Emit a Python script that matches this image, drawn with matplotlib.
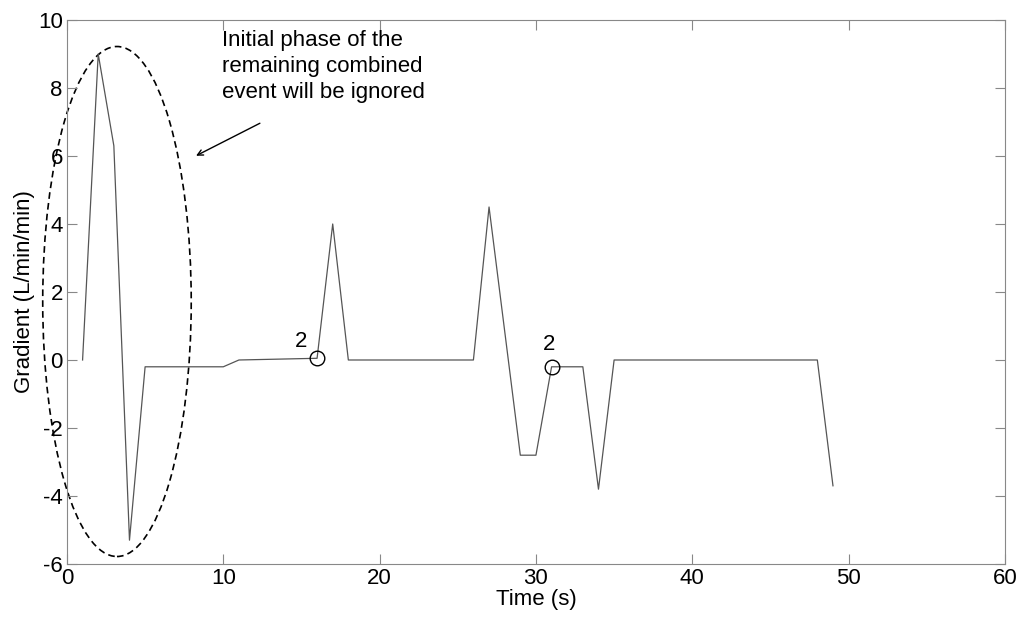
import numpy as np
import matplotlib.pyplot as plt
from matplotlib.patches import Ellipse

plt.rcParams['font.family'] = ['Liberation Sans', 'DejaVu Sans']
plt.rcParams['axes.unicode_minus'] = False

# gradient trace
t = [1, 2, 3, 4, 5, 10, 11, 16, 17, 18, 26, 27, 29, 30, 31, 33, 34, 35, 48, 49]
grad = [0, 9.0, 6.3, -5.3, -0.2, -0.2, 0, 0.05, 4.0, 0, 0, 4.5, -2.8, -2.8, -0.2, -0.2, -3.8, 0, 0, -3.7]

# marked points
mark_t = [16, 31]
mark_g = [0.05, -0.2]
mark_lbl = ['2', '2']
lbl_off = [(-1.0, 0.5), (-0.15, 0.65)]

note = 'Initial phase of the\nremaining combined\nevent will be ignored'

fig = plt.figure(figsize=(10.19, 6.21), dpi=100)
ax = fig.add_axes([0.0657, 0.0918, 0.9205, 0.8760])

ax.plot(t, grad, color='#555555', lw=0.9)
ax.plot(mark_t, mark_g, 'o', mfc='none', mec='black', ms=10.5, mew=1.0)
for x, y, s, (dx, dy) in zip(mark_t, mark_g, mark_lbl, lbl_off):
    ax.text(x + dx, y + dy, s, fontsize=16, ha='center', va='center')

ell = Ellipse((3.2, 1.72), 9.5, 15.0, fill=False, ls=(0, (4, 2.5)),
              ec='black', lw=1.2, clip_on=False)
ax.add_patch(ell)

ax.text(9.9, 9.7, note, fontsize=16, ha='left', va='top', linespacing=1.32)
ax.annotate('', xy=(8.1, 5.97), xytext=(12.5, 7.0),
            arrowprops=dict(arrowstyle='->', color='black', lw=1.0))

ax.set_xlim(0, 60)
ax.set_ylim(-6, 10)
ax.set_xticks(np.arange(0, 61, 10))
ax.set_yticks(np.arange(-6, 11, 2))
ax.tick_params(direction='in', top=True, right=True, length=7, width=0.8,
               color='#888888', labelsize=16, pad=3)
for s in ax.spines.values():
    s.set_color('#888888')
    s.set_linewidth(0.8)

ax.set_xlabel('Time (s)', fontsize=16, labelpad=0)
ax.set_ylabel('Gradient (L/min/min)', fontsize=16, labelpad=2)

fig.savefig('out.png', dpi=100)
